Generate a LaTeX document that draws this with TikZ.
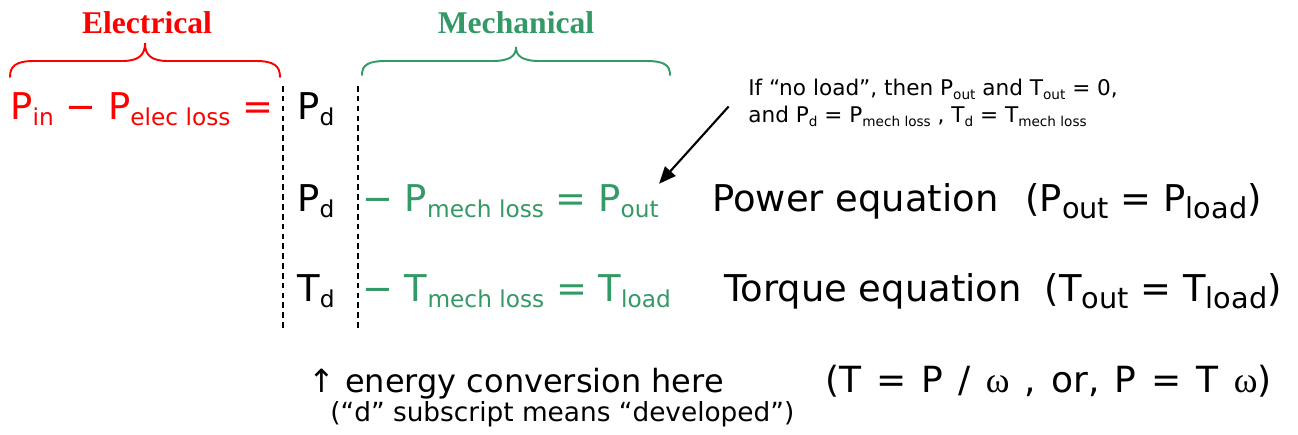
\documentclass[tikz,border=0pt]{standalone}
\usepackage{fontspec}
\usepackage{graphicx}
\setmainfont{DejaVu Sans}
\newfontfamily\headfont{Liberation Serif}
\usetikzlibrary{arrows.meta}
\definecolor{Elec}{HTML}{FF0000}
\definecolor{Mech}{HTML}{339966}
\newcommand{\dn}[1]{\raisebox{-0.17em}{\scalebox{0.63}{#1}}}
\newcommand{\dnn}[1]{\raisebox{-0.2em}{\scalebox{0.78}{#1}}}
\newcommand{\om}{{\headfont ω}}
\newcommand{\widesp}{\spaceskip=0.42em\relax}

\begin{document}
\begin{tikzpicture}[x=0.02cm,y=-0.02cm,
    eq/.style={anchor=base west,inner sep=0pt,font=\fontsize{21}{24}\selectfont},
    eqend/.style={eq,anchor=base east},
    head/.style={anchor=base,inner sep=0pt,font=\headfont\bfseries\fontsize{18}{20}\selectfont},
    brace/.style={line width=1.1pt,line cap=round},
    divider/.style={line width=1.2pt,dash pattern=on 3.2pt off 2.4pt}]
  \useasboundingbox (0,0) rectangle (1298,434);
  % braces and headings
  \draw[brace,Elec] (10,77) .. controls (10,66) and (16,61) .. (34,61) -- (122,61)
    .. controls (139,61) and (145,55) .. (145,43) .. controls (145,55) and (151,61) .. (168,61)
    -- (256,61) .. controls (274,61) and (280,66) .. (280,77);
  \draw[brace,Mech] (362,75) .. controls (362,65) and (368,61) .. (386,61) -- (492,61)
    .. controls (510,61) and (516,56) .. (516,47) .. controls (516,56) and (522,61) .. (540,61)
    -- (646,61) .. controls (664,61) and (670,65) .. (670,75);
  \node[head,Elec] (electrical) at (147,33) {Electrical};
  \node[head,Mech] (mechanical) at (516,33) {Mechanical};
  % dashed dividers
  \draw[divider] (283,86) -- (283,328);
  \draw[divider] (358,86) -- (358,328);
  % equations
  \node[eq,Elec] (elec) at (10,119) {P\dn{in} − P\dn{elec loss} =};
  \node[eq] (pd1) at (297,119) {P\dn{d}};
  \node[eq] (pd2) at (297,211) {P\dn{d}};
  \node[eq,Mech] (mech2) at (362,211) {− P\dn{mech loss} = P\dn{out}};
  \node[eq] (power) at (712,211) {Power equation};
  \node[eqend] (powerrel) at (1262,211) {(P\dnn{out} = P\dnn{load})};
  \node[eq] (td) at (297,301) {T\dn{d}};
  \node[eq,Mech] (mech3) at (362,301) {− T\dn{mech loss} = T\dn{load}};
  \node[eq] (torque) at (724,301) {Torque equation};
  \node[eqend] (torquerel) at (1282,301) {(T\dnn{out} = T\dnn{load})};
  % note
  \node[anchor=north west,inner sep=0pt,align=left,font=\fontsize{12.3}{15.3}\selectfont] (note) at (748,79)
    {If “no load”, then P\dn{out} and T\dn{out} = 0,\\and P\dn{d} = P\dn{mech loss} , T\dn{d} = T\dn{mech loss}};
  \draw[line width=1.2pt,-{Triangle[length=0.34cm,width=0.28cm]}] ([xshift=-11pt,yshift=-2pt]note.west) -- (mech2.north east);
  % bottom lines
  \node[eq,font=\fontsize{18.2}{22}\selectfont] (conv) at (308,392) {↑ energy conversion here};
  \node[eqend,font=\fontsize{20.5}{24}\selectfont] (omega) at (1272,392) {\widesp(T = P / \om{} , or, P = T \om)};
  \node[eq,font=\fontsize{15}{18}\selectfont] (devel) at (330,421) {(“d” subscript means “developed”)};
\end{tikzpicture}
\end{document}
